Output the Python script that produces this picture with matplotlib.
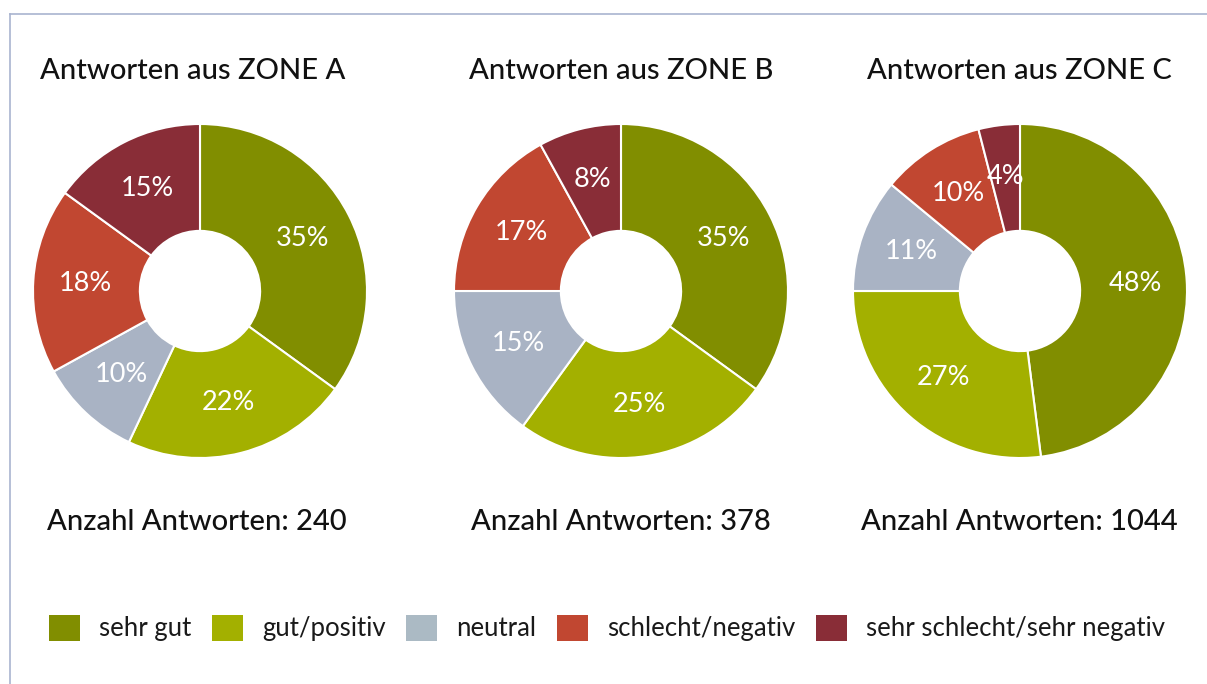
import matplotlib
matplotlib.use("Agg")
import matplotlib.pyplot as plt
from matplotlib.patches import Patch
from matplotlib.lines import Line2D

plt.rcParams['font.family'] = ['Lato', 'DejaVu Sans']

categories = ["sehr gut", "gut/positiv", "neutral", "schlecht/negativ", "sehr schlecht/sehr negativ"]
zone_a = [35, 22, 10, 18, 15]
zone_b = [35, 25, 15, 17, 8]
zone_c = [48, 27, 11, 10, 4]
titles = ["Antworten aus ZONE A", "Antworten aus ZONE B", "Antworten aus ZONE C"]
counts = [240, 378, 1044]

pie_colors = ["#818E00", "#A3B000", "#A9B3C4", "#C14731", "#892D37"]
legend_colors = ["#818E00", "#A3B000", "#ABBAC4", "#C14731", "#892D37"]

W, H = 1207, 684
fig = plt.figure(figsize=(W / 100, H / 100), dpi=100)
fig.patch.set_facecolor("white")

# frame lines (left and top)
border = "#A9B4CF"
fig.add_artist(Line2D([10 / W, 10 / W], [0, 1 - 14 / H], transform=fig.transFigure, color=border, lw=1.2))
fig.add_artist(Line2D([10 / W, 1], [1 - 14 / H, 1 - 14 / H], transform=fig.transFigure, color=border, lw=1.2))

centers_x = [200, 621, 1020]
cy = 291
R = 167
title_x = [193, 621, 1019]
count_x = [197, 621, 1019]

for data, cx, title, n, tx, nx in zip([zone_a, zone_b, zone_c], centers_x, titles, counts, title_x, count_x):
    ax = fig.add_axes([(cx - R) / W, (H - cy - R) / H, 2 * R / W, 2 * R / H])
    ax.pie(data, colors=pie_colors, startangle=90, counterclock=False,
           wedgeprops=dict(width=0.64, edgecolor="white", linewidth=1.5),
           autopct=lambda p: f"{p:.0f}%", pctdistance=0.69,
           textprops=dict(color="white", fontsize=19.5))
    ax.set_xlim(-1.0, 1.0)
    ax.set_ylim(-1.0, 1.0)
    ax.set_aspect("equal")
    fig.text(tx / W, 1 - 71 / H, title, ha="center", va="center", fontsize=21,
             fontweight=500, color="#111111")
    fig.text(nx / W, 1 - 522 / H, f"Anzahl Antworten: {n}", ha="center", va="center",
             fontsize=21, fontweight=500, color="#111111")

handles = [Patch(facecolor=c, edgecolor="none") for c in legend_colors]
fig.legend(handles, categories, loc="center left", bbox_to_anchor=(49 / W, 1 - 628 / H),
           ncol=5, frameon=False, borderpad=0, borderaxespad=0, fontsize=18.5,
           handlelength=1.21, handleheight=1.21, handletextpad=0.74, columnspacing=0.8,
           labelcolor="#1a1a1a")

fig.savefig("out.png", dpi=100, facecolor="white")
